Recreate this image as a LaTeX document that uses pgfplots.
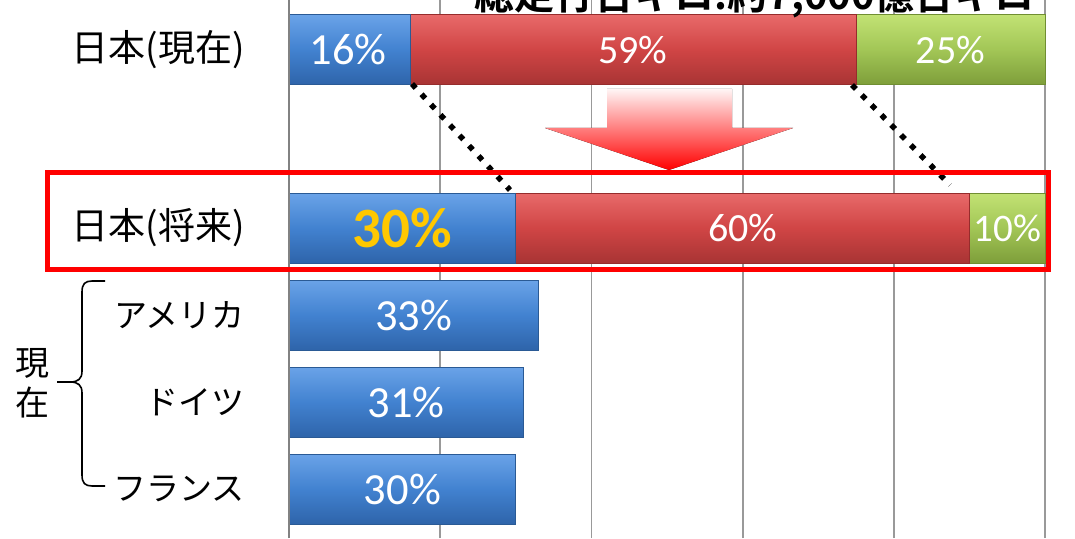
\documentclass[border=0pt]{standalone}
\usepackage{fontspec}
\setmainfont{Carlito}
\newfontfamily\jp{Noto Sans CJK JP}
\newfontfamily\jpb{Noto Sans CJK JP Bold}
\usepackage{pgfplots}
\pgfplotsset{compat=1.18}
\definecolor{blueT}{HTML}{6AA3E8}
\definecolor{blueM}{HTML}{4282D0}
\definecolor{blueB}{HTML}{2E64AA}
\definecolor{blueD}{HTML}{2A5A95}
\definecolor{redT}{HTML}{E86A6A}
\definecolor{redM}{HTML}{D04545}
\definecolor{redB}{HTML}{A83434}
\definecolor{redD}{HTML}{962C2C}
\definecolor{greenT}{HTML}{C2E274}
\definecolor{greenM}{HTML}{A2C656}
\definecolor{greenB}{HTML}{7E9E3A}
\definecolor{greenD}{HTML}{708E32}
\definecolor{gridgray}{HTML}{999999}
\definecolor{gold}{HTML}{FFC800}
\tikzset{
  pct/.style={text=white, font=\fontsize{40}{40}\selectfont, anchor=center, inner sep=0pt},
  pctb/.style={text=white, font=\fontsize{44.5}{44.5}\selectfont, anchor=center, inner sep=0pt},
  bblue/.style={top color=blueT, bottom color=blueB, middle color=blueM, draw=blueD, line width=0.8pt},
  bred/.style={top color=redT, bottom color=redB, middle color=redM, draw=redD, line width=0.8pt},
  bgreen/.style={top color=greenT, bottom color=greenB, middle color=greenM, draw=greenD, line width=0.8pt},
}
\begin{document}
\begin{tikzpicture}
\pgfplotsset{
  base/.style={at={(289pt,0pt)}, anchor=south west, width=756pt, height=538pt,
    scale only axis, xmin=0, xmax=100, ymin=-0.563, ymax=5.621, bar width=70pt, clip=false},
}
% axis with grid, labels and Japan (current)
\begin{axis}[base, xbar stacked,
  axis line style={draw=none},
  xtick={0,20,40,60,80,100}, xticklabels={}, xmajorgrids,
  major tick length=0pt,
  grid style={color=gridgray, line width=1.8pt},
  ytick={0,1,2,3,5.05},
  yticklabels={フランス,ドイツ,アメリカ,{\fontsize{37}{37}\selectfont 日本(将来)},{\fontsize{37}{37}\selectfont 日本(現在)}},
  yticklabel style={font=\jp\fontsize{33}{33}\selectfont, anchor=east, inner sep=0pt, xshift=-44pt},
]
\addplot[bblue] coordinates {(16,5.05)};
\addplot[bred] coordinates {(59,5.05)};
\addplot[bgreen] coordinates {(25,5.05)};
\end{axis}
% Japan (future)
\begin{axis}[base, xbar stacked, hide axis]
\addplot[bblue] coordinates {(30,3)};
\addplot[bred] coordinates {(60,3)};
\addplot[bgreen] coordinates {(10,3)};
\end{axis}
% other countries
\begin{axis}[base, xbar, bar shift=0pt, hide axis]
\addplot[bblue] coordinates {(33,2)};
\addplot[bblue] coordinates {(31,1)};
\addplot[bblue] coordinates {(30,0)};
\draw[gridgray!85!black, line width=2.6pt] (axis cs:0,-0.563) -- (axis cs:0,5.621);
\node[pctb] at (axis cs:7.8,5.05) {16\%};
\node[pct] at (axis cs:45.5,5.05) {59\%};
\node[pct] at (axis cs:87.5,5.05) {25\%};
\node[pct, text=gold, font=\bfseries\fontsize{57}{57}\selectfont] at (axis cs:15,3) {30\%};
\node[pct] at (axis cs:60,3) {60\%};
\node[pct, font=\fontsize{39}{39}\selectfont] at (axis cs:95,3) {10\%};
\node[pctb] at (axis cs:16.5,2) {33\%};
\node[pctb] at (axis cs:15.5,1) {31\%};
\node[pctb] at (axis cs:15,0) {30\%};
\end{axis}
\begin{scope}[x=1pt, y=-1pt, yshift=538pt]
\node[anchor=base east, inner sep=0pt, font=\jpb\fontsize{40}{40}\selectfont] at (1035,10) {総走行台キロ:約7,000億台キロ};
\fill[top color=red!4, middle color=red!32, bottom color=red] (607,89) -- (732,89) -- (732,128) -- (793,128) -- (669,170) -- (545,128) -- (607,128) -- cycle;
\draw[line width=5.5pt, dash pattern=on 5.5pt off 8.5pt] (412,84) -- (510,190);
\draw[line width=5.5pt, dash pattern=on 5.5pt off 8.5pt] (852,85) -- (950,185);
\draw[red, line width=5pt] (47,173) rectangle (1048,270);
\draw[line width=1.6pt] (105,281) -- (92,281) .. controls (85,281) and (82,284) .. (82,292) -- (82,371) .. controls (82,379) and (78,382) .. (70,382) -- (57,382);
\draw[line width=1.6pt] (70,382) .. controls (78,382) and (82,385) .. (82,393) -- (82,475) .. controls (82,483) and (85,486) .. (92,486) -- (105,486);
\node[font=\jp\fontsize{34}{40}\selectfont, align=center, inner sep=0pt] at (32,383) {現\\在};
\end{scope}
\pgfresetboundingbox
\useasboundingbox (0,0) rectangle (1075pt,538pt);
\end{tikzpicture}
\end{document}
